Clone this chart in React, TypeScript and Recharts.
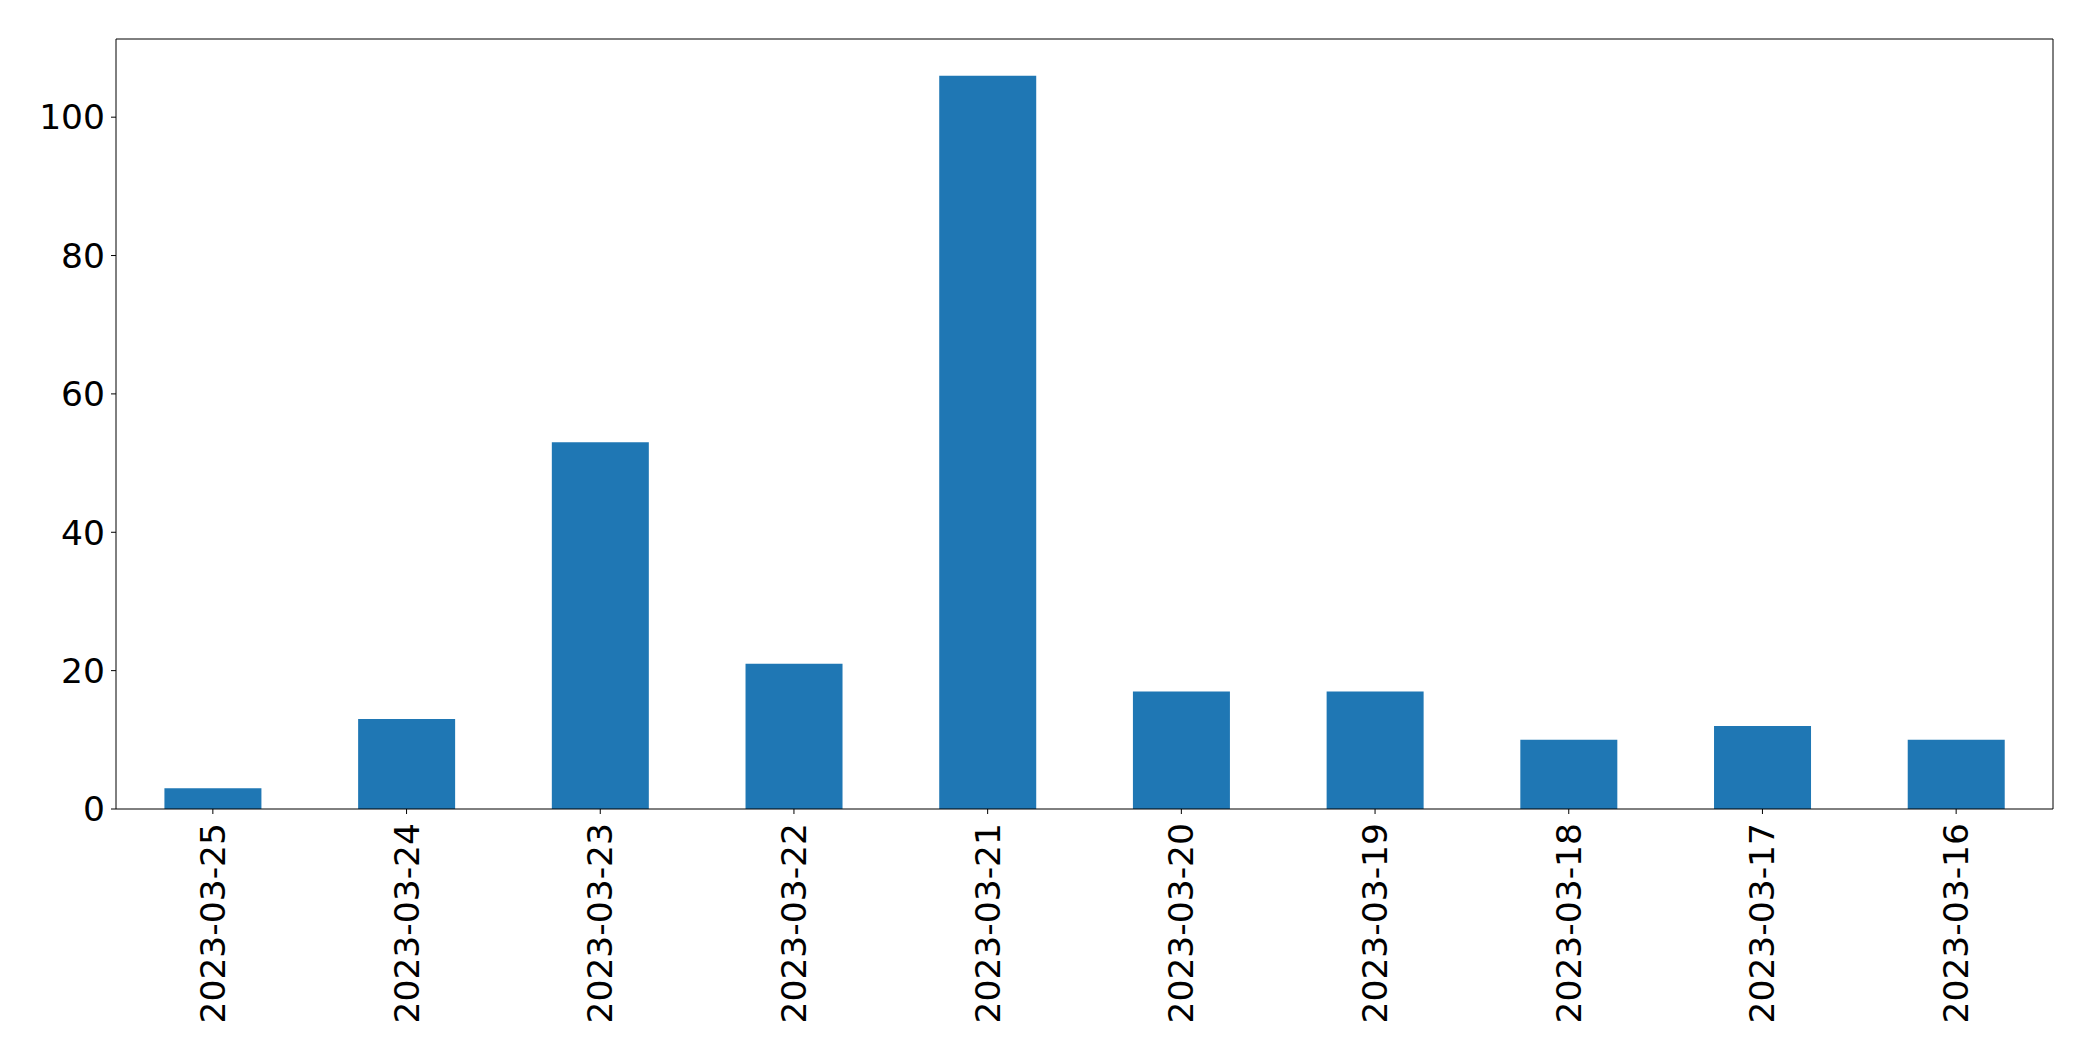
import React from 'react';
import { BarChart, Bar, XAxis, YAxis } from 'recharts';

const dates = [
  '2023-03-25', '2023-03-24', '2023-03-23', '2023-03-22', '2023-03-21',
  '2023-03-20', '2023-03-19', '2023-03-18', '2023-03-17', '2023-03-16',
];
const counts = [3, 13, 53, 21, 106, 17, 17, 10, 12, 10];
const yTicks = [0, 20, 40, 60, 80, 100];

const data = dates.map((date, i) => ({ date, count: counts[i] }));

const FONT = '"DejaVu Sans", sans-serif';
const FONT_SIZE = 34.5;

const DateTick = ({ x, y, payload }: any) => (
  <text
    x={x}
    y={y + 9}
    transform={`rotate(-90, ${x}, ${y + 9})`}
    textAnchor="end"
    dominantBaseline="central"
    fontFamily={FONT}
    fontSize={FONT_SIZE}
    fill="#000"
  >
    {payload.value}
  </text>
);

const App: React.FC = () => {
  return (
    <div style={{ position: 'absolute', left: 0, top: 0, background: '#fff' }}>
      <BarChart
        width={2093}
        height={1061}
        data={data}
        margin={{ top: 38, right: 39, left: 0, bottom: 0 }}
        barCategoryGap="25%"
      >
        <XAxis
          dataKey="date"
          height={252}
          interval={0}
          tickSize={5}
          tickMargin={0}
          axisLine={{ stroke: '#000', strokeWidth: 1 }}
          tickLine={{ stroke: '#000' }}
          tick={<DateTick />}
        />
        <XAxis
          xAxisId="top"
          dataKey="date"
          orientation="top"
          height={1}
          tick={false}
          tickLine={false}
          axisLine={{ stroke: '#000', strokeWidth: 1 }}
        />
        <YAxis
          width={116}
          domain={[0, (max: number) => max * 1.05]}
          ticks={yTicks}
          tickSize={5}
          tickMargin={6}
          axisLine={{ stroke: '#000', strokeWidth: 1 }}
          tickLine={{ stroke: '#000' }}
          tick={{ fontFamily: FONT, fontSize: FONT_SIZE, fill: '#000' }}
        />
        <YAxis
          yAxisId="right"
          orientation="right"
          width={1}
          domain={[0, (max: number) => max * 1.05]}
          tick={false}
          tickLine={false}
          axisLine={{ stroke: '#000', strokeWidth: 1 }}
        />
        <Bar dataKey="count" fill="#1f77b4" isAnimationActive={false} />
      </BarChart>
    </div>
  );
};

export default App;
